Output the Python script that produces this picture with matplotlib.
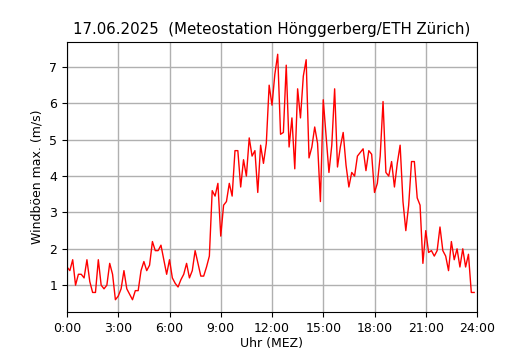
import matplotlib
matplotlib.use("Agg")
import matplotlib.pyplot as plt
import numpy as np

wind = [
    1.5, 1.4, 1.7, 1.0, 1.3, 1.3,
    1.2, 1.7, 1.1, 0.8, 0.8, 1.7,
    1.0, 0.9, 1.0, 1.6, 1.3, 0.6,
    0.7, 0.9, 1.4, 0.9, 0.75, 0.6,
    0.85, 0.85, 1.4, 1.65, 1.4, 1.55,
    2.2, 1.95, 1.95, 2.1, 1.7, 1.3,
    1.7, 1.2, 1.05, 0.95, 1.15, 1.3,
    1.6, 1.2, 1.4, 1.95, 1.6, 1.25,
    1.25, 1.5, 1.8, 3.6, 3.45, 3.8,
    2.35, 3.2, 3.3, 3.8, 3.45, 4.7,
    4.7, 3.7, 4.45, 4.0, 5.05, 4.55,
    4.7, 3.55, 4.85, 4.35, 4.9, 6.5,
    5.95, 6.8, 7.35, 5.15, 5.2, 7.05,
    4.8, 5.6, 4.2, 6.4, 5.6, 6.75,
    7.2, 4.5, 4.8, 5.35, 4.9, 3.3,
    6.1, 5.1, 4.1, 4.85, 6.4, 4.25,
    4.8, 5.2, 4.3, 3.7, 4.1, 4.0,
    4.55, 4.65, 4.75, 4.15, 4.7, 4.6,
    3.55, 3.8, 4.55, 6.05, 4.1, 4.0,
    4.4, 3.7, 4.35, 4.85, 3.3, 2.5,
    3.2, 4.4, 4.4, 3.4, 3.2, 1.6,
    2.5, 1.9, 1.95, 1.8, 1.95, 2.6,
    1.95, 1.8, 1.4, 2.2, 1.7, 2.0,
    1.5, 2.0, 1.5, 1.85, 0.8, 0.8,
]
hours = np.arange(len(wind)) / 6.0
xticks = [0, 3, 6, 9, 12, 15, 18, 21, 24]
xticklabels = ["0:00", "3:00", "6:00", "9:00", "12:00", "15:00", "18:00", "21:00", "24:00"]
yticks = [1, 2, 3, 4, 5, 6, 7]

fig = plt.figure(figsize=(5.3, 3.5), dpi=100)
ax = fig.add_axes([67/530, 1-312/350, 410/530, 270/350])
ax.plot(hours, wind, color="red", lw=1)
ax.set_xlim(0, 24)
ax.set_xticks(xticks)
ax.set_xticklabels(xticklabels, fontsize=9)
ax.set_yticks(yticks)
ax.tick_params(axis="y", labelsize=9)
ax.grid(True, color="#b0b0b0", lw=1)
ax.set_xlabel("Uhr (MEZ)", fontsize=9, labelpad=2)
ax.set_ylabel("Windböen max. (m/s)", fontsize=9)
ax.set_title("17.06.2025  (Meteostation Hönggerberg/ETH Zürich)", fontsize=10.8)
fig.savefig("out.png", dpi=100)
